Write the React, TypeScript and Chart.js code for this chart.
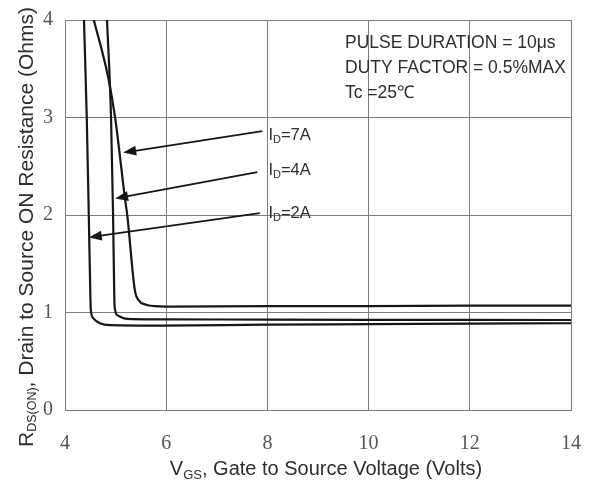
import { useEffect, useRef } from "react";
import { Chart, registerables } from "chart.js";

Chart.register(...registerables);

// Gate-source voltage (V) and on-resistance (Ohms) for each drain current
const vgs2A = [4.375, 4.43, 4.47, 4.5, 4.51, 4.56, 4.69, 4.89, 5.9, 8, 10, 12, 14];
const rds2A = [4.0, 3.0, 2.0, 1.2, 1.03, 0.94, 0.89, 0.87, 0.865, 0.875, 0.88, 0.885, 0.89];

const vgs4A = [4.83, 4.91, 4.95, 4.97, 4.98, 5.04, 5.17, 5.35, 6, 8, 10, 12, 14];
const rds4A = [4.0, 3.0, 2.0, 1.3, 1.06, 0.97, 0.94, 0.932, 0.93, 0.927, 0.925, 0.924, 0.923];

const vgs7A = [4.57, 4.85, 4.99, 5.19, 5.23, 5.38, 5.45, 5.6, 5.78, 6, 8, 10, 12, 14];
const rds7A = [4.0, 3.42, 3.0, 2.15, 2.0, 1.23, 1.13, 1.08, 1.065, 1.06, 1.065, 1.065, 1.07, 1.07];

// Axis ticks
const xTicks = [4, 6, 8, 10, 12, 14];
const yTicks = [0, 1, 2, 3, 4];

// Curve callouts: label text, arrow tail and tip (data units)
const calloutCurrents = ["7A", "4A", "2A"];
const calloutTailV = [7.9, 7.8, 7.85];
const calloutTailR = [2.86, 2.44, 2.02];
const calloutTipV = [5.15, 4.99, 4.47];
const calloutTipR = [2.64, 2.17, 1.77];
const calloutLabelV = 8.02;
const calloutLabelR = [2.83, 2.47, 2.03];

// Test conditions
const conditionLines = ["PULSE DURATION = 10\u03bcs", "DUTY FACTOR = 0.5%MAX", "Tc =25\u2103"];

const SANS = "'Liberation Sans', Arial, sans-serif";
const SERIF = "'Liberation Serif', 'Times New Roman', serif";
const TEXT = "#2e2e2e";
const GRID = "#7c7c7c";
const CURVE = "#161616";

const toPoints = (xs: number[], ys: number[]) => xs.map((x, i) => ({ x, y: ys[i] }));

// Draw text made of [text, isSubscript] parts, left to right from (x, y) baseline
function drawRich(ctx: CanvasRenderingContext2D, parts: [string, boolean][], x: number, y: number, size: number, subSize: number, subShift: number) {
  let cx = x;
  for (const [t, sub] of parts) {
    ctx.font = `${sub ? subSize : size}px ${SANS}`;
    ctx.fillText(t, cx, sub ? y + subShift : y);
    cx += ctx.measureText(t).width;
  }
}

function richWidth(ctx: CanvasRenderingContext2D, parts: [string, boolean][], size: number, subSize: number) {
  let w = 0;
  for (const [t, sub] of parts) {
    ctx.font = `${sub ? subSize : size}px ${SANS}`;
    w += ctx.measureText(t).width;
  }
  return w;
}

const decorations = {
  id: "decorations",
  afterDraw(chart: any) {
    const ctx: CanvasRenderingContext2D = chart.ctx;
    const xs = chart.scales.x;
    const ys = chart.scales.y;
    ctx.save();
    ctx.fillStyle = TEXT;
    ctx.textBaseline = "alphabetic";
    ctx.textAlign = "left";

    // Test conditions block
    ctx.font = `17.5px ${SANS}`;
    conditionLines.forEach((line, i) => {
      ctx.fillText(line, 345, 48 + i * 25);
    });

    // Arrows from labels to curves
    calloutCurrents.forEach((cur, i) => {
      const x1 = xs.getPixelForValue(calloutTailV[i]);
      const y1 = ys.getPixelForValue(calloutTailR[i]);
      const x2 = xs.getPixelForValue(calloutTipV[i]);
      const y2 = ys.getPixelForValue(calloutTipR[i]);
      const ang = Math.atan2(y2 - y1, x2 - x1);
      const headLen = 13;
      const headHalf = 5;
      ctx.strokeStyle = CURVE;
      ctx.lineWidth = 1.8;
      ctx.beginPath();
      ctx.moveTo(x1, y1);
      ctx.lineTo(x2 - Math.cos(ang) * headLen * 0.8, y2 - Math.sin(ang) * headLen * 0.8);
      ctx.stroke();
      ctx.fillStyle = CURVE;
      ctx.beginPath();
      ctx.moveTo(x2, y2);
      ctx.lineTo(x2 - Math.cos(ang) * headLen - Math.sin(ang) * headHalf, y2 - Math.sin(ang) * headLen + Math.cos(ang) * headHalf);
      ctx.lineTo(x2 - Math.cos(ang) * headLen + Math.sin(ang) * headHalf, y2 - Math.sin(ang) * headLen - Math.cos(ang) * headHalf);
      ctx.closePath();
      ctx.fill();

      // Label "I_D=xA"
      ctx.fillStyle = TEXT;
      const lx = xs.getPixelForValue(calloutLabelV);
      const ly = ys.getPixelForValue(calloutLabelR[i]) + 6;
      drawRich(ctx, [["I", false], ["D", true], ["=" + cur, false]], lx, ly, 16.5, 11, 3);
    });

    // X axis title
    ctx.fillStyle = TEXT;
    const xParts: [string, boolean][] = [["V", false], ["GS", true], [", Gate to Source Voltage (Volts)", false]];
    const xw = richWidth(ctx, xParts, 20, 13);
    drawRich(ctx, xParts, 326 - xw / 2, 475, 20, 13, 4);

    // Y axis title (rotated)
    const yParts: [string, boolean][] = [["R", false], ["DS(ON)", true], [", Drain to Source ON Resistance (Ohms)", false]];
    const yw = richWidth(ctx, yParts, 21, 12.5);
    ctx.translate(33, 227);
    ctx.rotate(-Math.PI / 2);
    drawRich(ctx, yParts, -yw / 2, 0, 21, 12.5, 3);
    ctx.restore();
  },
};

export default function App() {
  const canvasRef = useRef<HTMLCanvasElement | null>(null);

  useEffect(() => {
    if (!canvasRef.current) return;
    const common = {
      borderColor: CURVE,
      borderWidth: 2.2,
      pointRadius: 0,
      fill: false,
      cubicInterpolationMode: "monotone" as const,
    };
    const chart = new Chart(canvasRef.current, {
      type: "line",
      data: {
        datasets: [
          { label: "ID=7A", data: toPoints(vgs7A, rds7A), ...common },
          { label: "ID=4A", data: toPoints(vgs4A, rds4A), ...common },
          { label: "ID=2A", data: toPoints(vgs2A, rds2A), ...common },
        ],
      },
      options: {
        animation: false,
        responsive: false,
        layout: { padding: { top: 20, right: 18, left: 0, bottom: 0 } },
        plugins: {
          legend: { display: false },
          tooltip: { enabled: false },
        },
        scales: {
          x: {
            type: "linear",
            min: 4,
            max: 14,
            afterBuildTicks: (scale: any) => {
              scale.ticks = xTicks.map((v) => ({ value: v }));
            },
            afterFit: (scale: any) => {
              scale.height = 72;
              scale.paddingLeft = 0;
              scale.paddingRight = 0;
            },
            ticks: {
              font: { family: SERIF, size: 20 },
              color: "#555",
              padding: 22,
              maxRotation: 0,
            },
            grid: { color: GRID, lineWidth: 1, drawTicks: false },
            border: { color: GRID, width: 1 },
          },
          y: {
            type: "linear",
            min: 0,
            max: 4,
            afterBuildTicks: (scale: any) => {
              scale.ticks = yTicks.map((v) => ({ value: v }));
            },
            afterFit: (scale: any) => {
              scale.width = 65;
              scale.paddingTop = 0;
              scale.paddingBottom = 0;
            },
            ticks: {
              font: { family: SERIF, size: 20 },
              color: "#555",
              padding: 12,
            },
            grid: { color: GRID, lineWidth: 1, drawTicks: false },
            border: { color: GRID, width: 1 },
          },
        },
      },
      plugins: [decorations],
    });
    return () => chart.destroy();
  }, []);

  return (
    <div style={{ position: "absolute", left: 0, top: 0, width: 589, height: 482, background: "#fff" }}>
      <canvas ref={canvasRef} width={589} height={482} />
    </div>
  );
}
